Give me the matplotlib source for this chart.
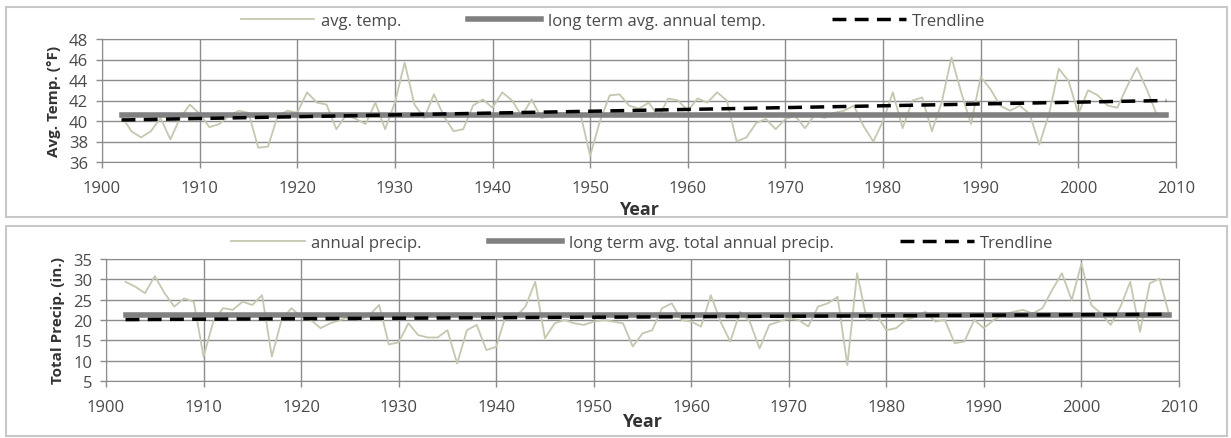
import matplotlib
matplotlib.use('Agg')
import matplotlib.pyplot as plt
import matplotlib.patches as patches
import numpy as np

plt.rcParams['font.family'] = ['Open Sans', 'DejaVu Sans']

years = list(range(1902, 2010))

# avg annual temperature (F), 1902-2009
avg_temp = [40.5, 39.0, 38.4, 39.0, 40.3, 38.2, 40.3, 41.6, 40.7, 39.4,
            39.7, 40.5, 41.0, 40.8, 37.4, 37.5, 40.5, 41.0, 40.8, 42.8,
            41.8, 41.6, 39.2, 40.6, 40.2, 39.7, 41.8, 39.2, 41.8, 45.7,
            41.6, 40.3, 42.6, 40.5, 39.0, 39.2, 41.5, 42.1, 41.3, 42.8,
            42.0, 40.5, 42.1, 40.3, 40.5, 40.8, 40.7, 40.7, 36.6, 40.0,
            42.5, 42.6, 41.5, 41.2, 41.8, 40.4, 42.2, 42.0, 41.0, 42.2,
            41.8, 42.8, 42.0, 38.0, 38.4, 39.8, 40.2, 39.2, 40.2, 40.5,
            39.3, 40.6, 40.3, 40.8, 41.0, 41.5, 39.5, 38.0, 40.0, 42.8,
            39.3, 42.0, 42.3, 39.0, 41.8, 46.2, 42.8, 39.7, 44.3, 43.1,
            41.5, 41.0, 41.5, 40.7, 37.7, 40.7, 45.1, 43.9, 40.7, 43.0,
            42.5, 41.5, 41.3, 43.4, 45.2, 43.1, 40.7, 40.4]
temp_longterm = 40.56
temp_trend = [40.1, 42.0]

# total annual precipitation (in.), 1902-2009
annual_precip = [29.4, 28.2, 26.6, 30.8, 26.6, 23.3, 25.3, 24.5, 11.0, 19.6,
                 22.9, 22.5, 24.5, 23.7, 26.1, 11.0, 20.0, 22.9, 20.8, 20.0,
                 18.0, 19.2, 20.0, 20.8, 20.0, 21.2, 23.7, 14.0, 14.5, 19.2,
                 16.3, 15.7, 15.7, 17.5, 9.3, 17.5, 18.8, 12.6, 13.4, 21.2,
                 20.8, 23.3, 29.4, 15.5, 19.2, 20.0, 19.2, 18.8, 19.6, 20.0,
                 19.6, 19.2, 13.5, 16.7, 17.5, 22.9, 24.1, 20.0, 19.6, 18.4,
                 26.1, 19.6, 14.7, 22.0, 19.6, 13.0, 18.8, 19.6, 20.4, 20.0,
                 18.4, 23.3, 24.1, 25.7, 8.9, 31.5, 20.0, 21.2, 17.5, 18.0,
                 20.0, 20.8, 22.0, 19.6, 20.0, 14.3, 14.7, 20.0, 18.0, 20.0,
                 21.2, 22.0, 22.5, 21.6, 22.9, 27.4, 31.5, 24.9, 33.9, 23.7,
                 21.6, 18.8, 23.3, 29.4, 17.1, 29.0, 30.2, 21.2]
precip_longterm = 21.2
precip_trend = [20.1, 21.4]

xticks = list(range(1900, 2011, 10))
temp_ticks = list(range(36, 49, 2))
precip_ticks = list(range(5, 36, 5))

DATA_C = '#c3c8b0'
LT_C = '#808080'
GRID_C = '#8c8c8c'

fig = plt.figure(figsize=(12.31, 4.39), dpi=100)

# panel frames
for y0, h in [(221 / 439, 210 / 439), (2 / 439, 210 / 439)]:
    fig.add_artist(patches.Rectangle((6 / 1231, y0), 1221 / 1231, h,
                                     transform=fig.transFigure, fill=False,
                                     edgecolor='#c8c8c8', lw=1.5))


def panel(rect, vals, lt, trend, ylim, yticks, ylabel, labels, leg_xy, xlpad):
    ax = fig.add_axes(rect)
    ax.plot(years, vals, color=DATA_C, lw=1.3, label=labels[0], zorder=3)
    ax.plot([years[0], years[-1]], [lt, lt], color=LT_C, lw=4,
            label=labels[1], zorder=4)
    ax.plot([years[0], years[-1]], trend, color='black', lw=2.5,
            dashes=(4, 2.4), label=labels[2], zorder=5)
    ax.set_xlim(1900, 2010)
    ax.set_ylim(*ylim)
    ax.set_xticks(xticks)
    ax.set_yticks(yticks)
    ax.grid(True, color=GRID_C, lw=1)
    ax.set_axisbelow(True)
    for s in ax.spines.values():
        s.set_color(GRID_C)
    ax.tick_params(colors=GRID_C, labelcolor='#4a4a4a', labelsize=12,
                   length=4, width=1)
    ax.tick_params(axis='x', pad=9)
    ax.tick_params(axis='y', pad=6)
    ax.set_ylabel(ylabel, fontsize=11, fontweight='bold', color='#333333',
                  labelpad=6)
    ax.set_xlabel('Year', fontsize=13, fontweight='bold', color='#333333',
                  labelpad=xlpad)
    ax.legend(loc='center', bbox_to_anchor=leg_xy, ncol=3,
              frameon=False, fontsize=12, handlelength=4.4,
              columnspacing=4.0, handletextpad=0.4, labelcolor='#4a4a4a')
    return ax


panel([102 / 1231, 1 - 163 / 439, 1074 / 1231, 123 / 439],
      avg_temp, temp_longterm, temp_trend, (36, 48), temp_ticks,
      'Avg. Temp. (°F)',
      ['avg. temp.', 'long term avg. annual temp.', 'Trendline'],
      (0.476, 1.145), 3)

panel([106 / 1231, 1 - 382 / 439, 1073 / 1231, 122 / 439],
      annual_precip, precip_longterm, precip_trend, (5, 35), precip_ticks,
      'Total Precip. (in.)',
      ['annual precip.', 'long term avg. total annual precip.', 'Trendline'],
      (0.5, 1.13), -2)

fig.savefig('out.png', dpi=100)
